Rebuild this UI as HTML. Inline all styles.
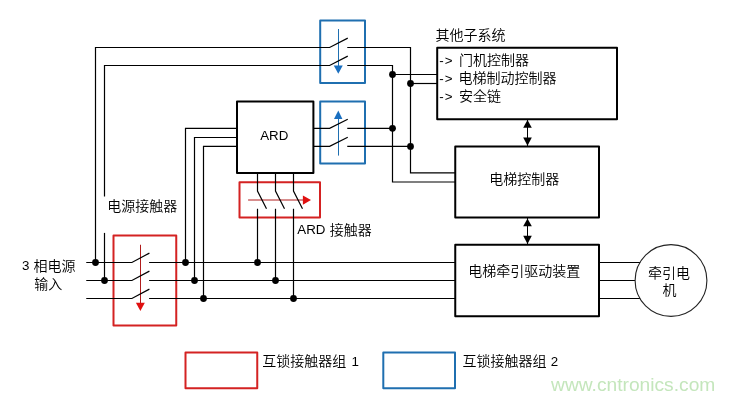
<!DOCTYPE html>
<html lang="zh-CN">
<head>
<meta charset="utf-8">
<title>ARD 互锁接触器</title>
<style>
html,body{margin:0;padding:0;background:#fff;}
body{width:735px;height:400px;overflow:hidden;}
svg{display:block;will-change:transform;}

</style>
</head>
<body>
<svg width="735" height="400" viewBox="0 0 735 400">
<rect x="0" y="0" width="735" height="400" fill="#fff"/>
<g id="wires">
<rect x="113.5" y="235.6" width="62.75" height="89.8" stroke="#d42222" stroke-width="2" stroke-linejoin="round" fill="none" />
<rect x="239.5" y="182.2" width="80.5" height="35.3" stroke="#d42222" stroke-width="2" stroke-linejoin="round" fill="none" />
<rect x="185.5" y="352.6" width="71.75" height="35.7" stroke="#d42222" stroke-width="2" stroke-linejoin="round" fill="none" />
<rect x="320.2" y="20.6" width="44.8" height="62.5" stroke="#1f6fb0" stroke-width="2" stroke-linejoin="round" fill="none" />
<rect x="320.2" y="101.4" width="44.8" height="62" stroke="#1f6fb0" stroke-width="2" stroke-linejoin="round" fill="none" />
<rect x="383.3" y="352.5" width="71.7" height="35.8" stroke="#1f6fb0" stroke-width="2" stroke-linejoin="round" fill="none" />
<path d="M248.1 200 L304 200" stroke="#b01c1c" stroke-width="1" fill="none" />
<polygon points="302.9,195.4 302.9,204.75 311,200" fill="#e01010"/>
<path d="M140.5 244.75 L140.5 303.5" stroke="#b01c1c" stroke-width="1" fill="none" />
<polygon points="135.9,302.75 144.8,302.75 140.4,311" fill="#e01010"/>
<path d="M338.5 29 L338.5 66.5" stroke="#1f6fb0" stroke-width="1" fill="none" />
<polygon points="333.75,65.6 342.75,65.6 338.3,73.75" fill="#1a6fc0"/>
<path d="M338.5 118 L338.5 155.6" stroke="#1f6fb0" stroke-width="1" fill="none" />
<polygon points="334,119 342.4,119 338.3,110.6" fill="#1a6fc0"/>
<path d="M86.25 262.5 L131.9 262.5 L149.4 253.1" stroke="#000" stroke-width="1.2" fill="none" />
<path d="M149.1 262.5 L455.25 262.5" stroke="#000" stroke-width="1.2" fill="none" />
<path d="M599 262.5 L645 262.5" stroke="#000" stroke-width="1.2" fill="none" />
<path d="M86.25 280.5 L131.9 280.5 L149.4 271.1" stroke="#000" stroke-width="1.2" fill="none" />
<path d="M149.1 280.5 L455.25 280.5" stroke="#000" stroke-width="1.2" fill="none" />
<path d="M599 280.5 L645 280.5" stroke="#000" stroke-width="1.2" fill="none" />
<path d="M86.25 298.5 L131.9 298.5 L149.4 289.1" stroke="#000" stroke-width="1.2" fill="none" />
<path d="M149.1 298.5 L455.25 298.5" stroke="#000" stroke-width="1.2" fill="none" />
<path d="M599 298.5 L645 298.5" stroke="#000" stroke-width="1.2" fill="none" />
<path d="M95.5 262.5 L95.5 47.5 L329.6 47.5 L347.75 38.1" stroke="#000" stroke-width="1.2" fill="none" />
<path d="M104.5 280.5 L104.5 232.9" stroke="#000" stroke-width="1.2" fill="none" />
<path d="M104.5 196.5 L104.5 65.5 L329.6 65.5 L347.75 56.1" stroke="#000" stroke-width="1.2" fill="none" />
<path d="M347.25 47.5 L410.5 47.5 L410.5 172.9 L455.25 172.9" stroke="#000" stroke-width="1.2" fill="none" />
<path d="M347.25 65.5 L392.5 65.5 L392.5 182 L455.25 182" stroke="#000" stroke-width="1.2" fill="none" />
<path d="M392.5 74.5 L437.2 74.5" stroke="#000" stroke-width="1.2" fill="none" />
<path d="M410.5 83.5 L437.2 83.5" stroke="#000" stroke-width="1.2" fill="none" />
<path d="M313.4 128.3 L329.6 128.3 L347.75 119.2" stroke="#000" stroke-width="1.2" fill="none" />
<path d="M347.25 128.3 L392.5 128.3" stroke="#000" stroke-width="1.2" fill="none" />
<path d="M313.4 146.4 L329.6 146.4 L347.75 137.3" stroke="#000" stroke-width="1.2" fill="none" />
<path d="M347.25 146.4 L410.5 146.4" stroke="#000" stroke-width="1.2" fill="none" />
<path d="M237 128.3 L185.5 128.3 L185.5 262.5" stroke="#000" stroke-width="1.2" fill="none" />
<path d="M237 137.5 L194.5 137.5 L194.5 280.5" stroke="#000" stroke-width="1.2" fill="none" />
<path d="M237 146.4 L203.5 146.4 L203.5 298.5" stroke="#000" stroke-width="1.2" fill="none" />
<path d="M257.5 173 L257.5 191 L266.5 208.75" stroke="#000" stroke-width="1.2" fill="none" />
<path d="M257.5 208.75 L257.5 262.5" stroke="#000" stroke-width="1.2" fill="none" />
<path d="M275.5 173 L275.5 191 L284.5 208.75" stroke="#000" stroke-width="1.2" fill="none" />
<path d="M275.5 208.75 L275.5 280.5" stroke="#000" stroke-width="1.2" fill="none" />
<path d="M293.5 173 L293.5 191 L302.5 208.75" stroke="#000" stroke-width="1.2" fill="none" />
<path d="M293.5 208.75 L293.5 298.5" stroke="#000" stroke-width="1.2" fill="none" />
<circle cx="95.5" cy="262.5" r="3.4" fill="#000"/>
<circle cx="104.5" cy="280.5" r="3.4" fill="#000"/>
<circle cx="185.5" cy="262.5" r="3.4" fill="#000"/>
<circle cx="194.5" cy="280.5" r="3.4" fill="#000"/>
<circle cx="203.5" cy="298.5" r="3.4" fill="#000"/>
<circle cx="257.5" cy="262.5" r="3.4" fill="#000"/>
<circle cx="275.5" cy="280.5" r="3.4" fill="#000"/>
<circle cx="293.5" cy="298.5" r="3.4" fill="#000"/>
<circle cx="392.5" cy="74.5" r="3.4" fill="#000"/>
<circle cx="410.5" cy="83.5" r="3.4" fill="#000"/>
<circle cx="392.5" cy="128.3" r="3.4" fill="#000"/>
<circle cx="410.5" cy="146.4" r="3.4" fill="#000"/>
<rect x="237" y="101.4" width="76.4" height="71.6" stroke="#000" stroke-width="2" stroke-linejoin="round" fill="none" />
<rect x="437.2" y="47.7" width="179.8" height="71.5" stroke="#000" stroke-width="2" stroke-linejoin="round" fill="none" />
<rect x="455.25" y="146.4" width="143.75" height="71" stroke="#000" stroke-width="2" stroke-linejoin="round" fill="none" />
<rect x="455.25" y="244.75" width="143.75" height="71.5" stroke="#000" stroke-width="2" stroke-linejoin="round" fill="none" />
<circle cx="671" cy="280.5" r="35.9" stroke="#222" stroke-width="1.1" fill="#fff"/>
<path d="M527.5 119.6 L527.5 146" stroke="#000" stroke-width="1" fill="none" />
<polygon points="523.2,127.8 531.8,127.8 527.5,120" fill="#000"/>
<polygon points="523.2,137.4 531.8,137.4 527.5,145.7" fill="#000"/>
<path d="M527.5 218 L527.5 244.4" stroke="#000" stroke-width="1" fill="none" />
<polygon points="523.2,226.2 531.8,226.2 527.5,218.4" fill="#000"/>
<polygon points="523.2,235.8 531.8,235.8 527.5,244.1" fill="#000"/>
</g>
<g id="labels">
<text x="435.5" y="39.6" font-family="'Liberation Sans','Noto Sans CJK SC',sans-serif" font-size="14" font-weight="350" >其他子系统</text>
<text x="439.3" y="64.6" font-family="'Liberation Sans',sans-serif" font-size="13.33" >-</text>
<text x="444.7" y="64.6" font-family="'Liberation Sans',sans-serif" font-size="13.33" >&gt;</text>
<text x="459" y="65.2" font-family="'Liberation Sans','Noto Sans CJK SC',sans-serif" font-size="14" font-weight="350" >门机控制器</text>
<text x="439.3" y="82.65" font-family="'Liberation Sans',sans-serif" font-size="13.33" >-</text>
<text x="444.7" y="82.65" font-family="'Liberation Sans',sans-serif" font-size="13.33" >&gt;</text>
<text x="458.4" y="83.25" font-family="'Liberation Sans','Noto Sans CJK SC',sans-serif" font-size="14" font-weight="350" >电梯制动控制器</text>
<text x="439.3" y="100.7" font-family="'Liberation Sans',sans-serif" font-size="13.33" >-</text>
<text x="444.7" y="100.7" font-family="'Liberation Sans',sans-serif" font-size="13.33" >&gt;</text>
<text x="459" y="101.3" font-family="'Liberation Sans','Noto Sans CJK SC',sans-serif" font-size="14" font-weight="350" >安全链</text>
<text x="260.2" y="140.2" font-family="'Liberation Sans',sans-serif" font-size="13.33" >ARD</text>
<text x="489.3" y="183.6" font-family="'Liberation Sans','Noto Sans CJK SC',sans-serif" font-size="14" font-weight="350" >电梯控制器</text>
<text x="468.2" y="275.5" font-family="'Liberation Sans','Noto Sans CJK SC',sans-serif" font-size="14" font-weight="350" >电梯牵引驱动装置</text>
<text x="648" y="277.7" font-family="'Liberation Sans','Noto Sans CJK SC',sans-serif" font-size="14" font-weight="350" >牵引电</text>
<text x="662.5" y="295.1" font-family="'Liberation Sans','Noto Sans CJK SC',sans-serif" font-size="14" font-weight="350" >机</text>
<text x="107.2" y="210.9" font-family="'Liberation Sans','Noto Sans CJK SC',sans-serif" font-size="14" font-weight="350" >电源接触器</text>
<text x="297.3" y="234.3" font-family="'Liberation Sans',sans-serif" font-size="13.33" >ARD</text>
<text x="329.7" y="235.3" font-family="'Liberation Sans','Noto Sans CJK SC',sans-serif" font-size="14" font-weight="350" >接触器</text>
<text x="22" y="269.9" font-family="'Liberation Sans',sans-serif" font-size="13.33" >3</text>
<text x="33.5" y="271" font-family="'Liberation Sans','Noto Sans CJK SC',sans-serif" font-size="14" font-weight="350" >相电源</text>
<text x="34.3" y="289.3" font-family="'Liberation Sans','Noto Sans CJK SC',sans-serif" font-size="14" font-weight="350" >输入</text>
<text x="262.3" y="366.3" font-family="'Liberation Sans','Noto Sans CJK SC',sans-serif" font-size="14" font-weight="350" >互锁接触器组</text>
<text x="351.5" y="366.1" font-family="'Liberation Sans',sans-serif" font-size="13.33" >1</text>
<text x="462.6" y="366.3" font-family="'Liberation Sans','Noto Sans CJK SC',sans-serif" font-size="14" font-weight="350" >互锁接触器组</text>
<text x="550.7" y="366.1" font-family="'Liberation Sans',sans-serif" font-size="13.33" >2</text>
<text x="551.1" y="390.6" font-family="'Liberation Sans',sans-serif" font-size="19.2" fill="#c4e6bc">www.cntronics.com</text>
</g>
</svg>
</body>
</html>
